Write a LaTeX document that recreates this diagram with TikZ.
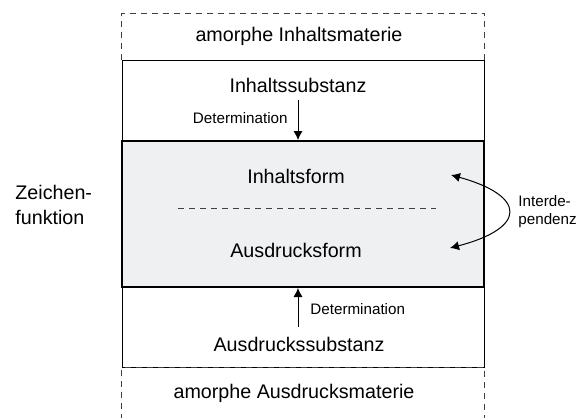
\documentclass[tikz,border=0pt]{standalone}
\usepackage{fontspec}
\setmainfont{Liberation Sans}
\usetikzlibrary{positioning,arrows.meta}
\definecolor{formgrau}{RGB}{239,240,242}
\begin{document}
\begin{tikzpicture}[x=0.5pt,y=-0.5pt]
  \tikzset{
    schrift/.style={font=\fontsize{9.85}{12.5}\selectfont,inner sep=0pt},
    klein/.style={font=\fontsize{7.6}{9}\selectfont,inner sep=0pt},
    rahmen/.style={draw,line width=0.5pt,minimum width=181pt},
    formkasten/.style={rahmen,line width=1pt,fill=formgrau},
    pfeil/.style={-{Latex[length=4.5pt,width=4.6pt]},line width=0.5pt},
    strich/.style={dash pattern=on 3pt off 2.5pt,line width=0.5pt,draw=black!75},
  }
  \useasboundingbox (0,0) rectangle (581,417);
  \node[rahmen,minimum height=153pt] (substanz) at (303,214) {};
  \node[formkasten,minimum height=73pt] (form) at (303,214) {};
  % Materie (gestrichelt)
  \draw[strich] (substanz.north west) -- ++(0,-47) -| (substanz.north east);
  \draw[strich] ([yshift=-26pt]substanz.south west) -- (substanz.south west)
    -- (substanz.south east) -- ++(0,52);
  \draw[strich] (178,208) -- (436,208);

  \node[schrift,anchor=base] (imat) at (299,42) {amorphe Inhaltsmaterie};
  \node[schrift,anchor=base] (isub) at (298,92) {Inhaltssubstanz};
  \node[schrift,anchor=base] (iform) at (296,183) {Inhaltsform};
  \node[schrift,anchor=base] (aform) at (296,257) {Ausdrucksform};
  \node[schrift,anchor=base] (asub) at (299,351) {Ausdruckssubstanz};
  \node[schrift,anchor=base] (amat) at (294,398) {amorphe Ausdrucksmaterie};
  \node[schrift,anchor=west,align=left] (zf) at (15,205) {Zeichen-\\funktion};
  \node[klein,anchor=west,align=left] (idp) at (518,212) {Interde-\\pendenz};

  % Determination
  \coordinate (dtop) at (298,100);
  \coordinate (dbot) at (298,327);
  \draw[pfeil] (dtop) -- (dtop |- form.north);
  \draw[pfeil] (dbot) -- (dbot |- form.south);
  \node[klein,anchor=base east,left=5pt of dtop,yshift=-9pt] (det1) {Determination};
  \node[klein,anchor=base west] (det2) at (310,314) {Determination};

  % Interdependenz
  \coordinate (ioben) at (451,175);
  \coordinate (iunten) at (450,248);
  \draw[pfeil,{Latex[length=4.5pt,width=4.6pt]}-{Latex[length=4.5pt,width=4.6pt]}]
    (ioben) .. controls (527,196) and (527,228) .. (iunten);
\end{tikzpicture}
\end{document}
